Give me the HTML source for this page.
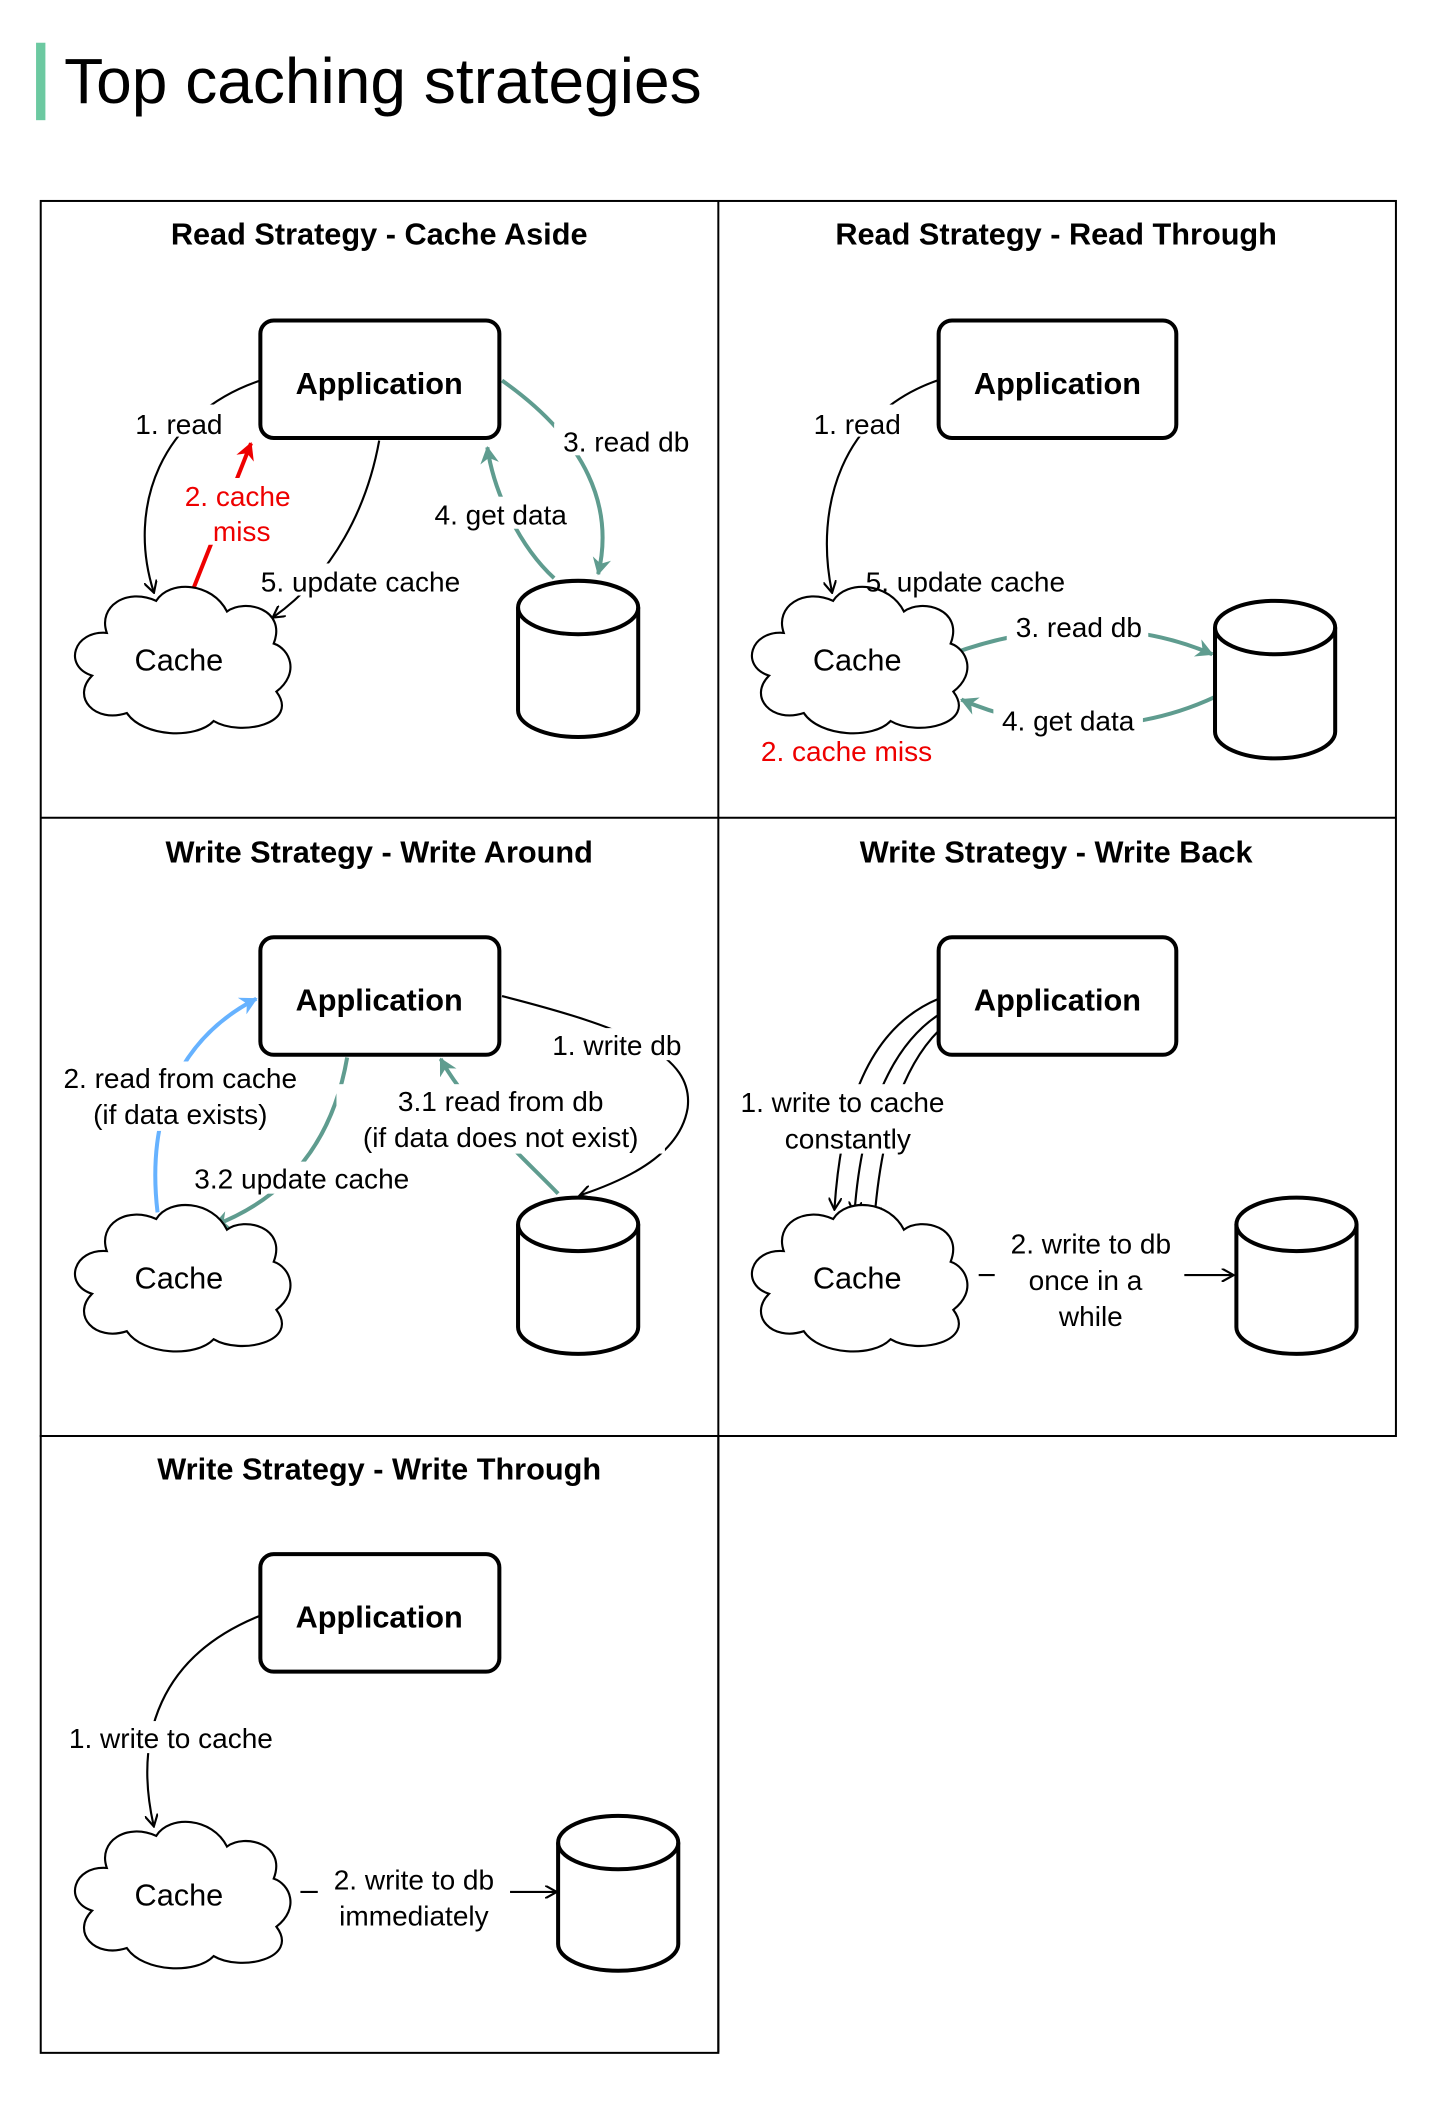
<!DOCTYPE html>
<html><head><meta charset="utf-8"><style>
html,body{margin:0;padding:0;background:#fff;}
svg{display:block;}
text{font-family:"Liberation Sans",sans-serif;}
.t{font-size:23px;font-weight:bold;text-anchor:middle;}
.l{font-size:21px;text-anchor:middle;fill:#000;}
.r{fill:#e00;}
.k{fill:none;stroke:#000;stroke-width:1.6;}
.g{fill:none;stroke:#5f9c8f;stroke-width:3;}
.b{fill:none;stroke:#66b2ff;stroke-width:3;}
.s{fill:none;stroke:#000;stroke-width:3;}
.bg{fill:#fff;stroke:none;}
</style></head><body>
<svg width="1442" height="2102" viewBox="0 0 1080 1574.3" xmlns="http://www.w3.org/2000/svg">
<defs>
<marker id="ak" markerWidth="10" markerHeight="10" refX="8" refY="5" orient="auto" markerUnits="userSpaceOnUse"><path d="M0,0 L9,5 L0,10" fill="none" stroke="#000" stroke-width="1.6"/></marker>
<marker id="ag" markerWidth="16" markerHeight="16" refX="12" refY="8" orient="auto" markerUnits="userSpaceOnUse"><path d="M0,1 L13,8 L0,15 L4,8 Z" fill="#5f9c8f"/></marker>
<marker id="ar" markerWidth="16" markerHeight="16" refX="12" refY="8" orient="auto" markerUnits="userSpaceOnUse"><path d="M0,1 L13,8 L0,15 L4,8 Z" fill="#e00"/></marker>
<marker id="ab" markerWidth="16" markerHeight="16" refX="12" refY="8" orient="auto" markerUnits="userSpaceOnUse"><path d="M0,1 L13,8 L0,15 L4,8 Z" fill="#66b2ff"/></marker>
<path id="cloud" d="M -55,-20 C -80,-22 -88,5 -66,12 C -82,28 -64,48 -40,40 C -28,58 12,60 25,46 C 45,58 90,48 72,24 C 90,10 82,-8 70,-12 C 80,-38 48,-46 35,-36 C 24,-58 -8,-60 -18,-44 C -40,-54 -62,-40 -55,-20 Z" fill="#fff" stroke="#000" stroke-width="1.6"/>
</defs>
<rect x="0" y="0" width="1080" height="1575" fill="#fff"/>
<rect x="27" y="32" width="7" height="58" fill="#6cc9a1"/>
<text x="48" y="77" style="font-size:48px">Top caching strategies</text>

<g fill="none" stroke="#000" stroke-width="1.5">
<rect x="30.5" y="150.5" width="1015" height="925"/>
<line x1="538" y1="150" x2="538" y2="1537"/>
<line x1="30" y1="612.5" x2="1045" y2="612.5"/>
<rect x="30.5" y="1075.5" width="507.5" height="462"/>
</g>

<!-- Panel 1 -->
<text class="t" x="284" y="183">Read Strategy - Cache Aside</text>
<path class="k" d="M195,285 C120,310 95,380 115,443" marker-end="url(#ak)"/>
<path class="k" d="M284,330 C275,380 250,430 205,462" marker-end="url(#ak)"/>
<path d="M142,448 L188,332" fill="none" stroke="#e00" stroke-width="3" marker-end="url(#ar)"/>
<path class="g" d="M376,285 C440,330 460,380 448,430" marker-end="url(#ag)"/>
<path class="g" d="M415,433 C390,410 370,370 365,335" marker-end="url(#ag)"/>
<rect class="s" x="195" y="240" width="179" height="88" rx="10" fill="#fff"/>
<text class="t" x="284" y="295">Application</text>
<use href="#cloud" x="135" y="494"/>
<text class="l" x="134" y="502" style="font-size:23px">Cache</text>
<path class="s" d="M388,455 V532 A45,20 0 0 0 478,532 V455" fill="#fff"/>
<ellipse class="s" cx="433" cy="455" rx="45" ry="20" fill="#fff"/>
<rect class="bg" x="98" y="303" width="74" height="24"/><text class="l" x="134" y="325">1. read</text>
<rect class="bg" x="135" y="358" width="88" height="50"/><text class="l r" x="178" y="379">2. cache</text><text class="l r" x="181" y="405">miss</text>
<rect class="bg" x="188" y="422" width="164" height="24"/><text class="l" x="270" y="443">5. update cache</text>
<rect class="bg" x="415" y="317" width="108" height="24"/><text class="l" x="469" y="338">3. read db</text>
<rect class="bg" x="318" y="372" width="116" height="24"/><text class="l" x="375" y="393">4. get data</text>

<!-- Panel 2 -->
<text class="t" x="791" y="183">Read Strategy - Read Through</text>
<path class="k" d="M702,285 C630,310 610,380 623,443" marker-end="url(#ak)"/>
<path class="g" d="M712,490 C780,465 850,465 908,490" marker-end="url(#ag)"/>
<path class="g" d="M910,522 C850,550 780,550 720,524" marker-end="url(#ag)"/>
<rect class="s" x="703" y="240" width="178" height="88" rx="10" fill="#fff"/>
<text class="t" x="792" y="295">Application</text>
<use href="#cloud" x="642" y="494"/>
<text class="l" x="642" y="502" style="font-size:23px">Cache</text>
<path class="s" d="M910,470 V548 A45,20 0 0 0 1000,548 V470" fill="#fff"/>
<ellipse class="s" cx="955" cy="470" rx="45" ry="20" fill="#fff"/>
<rect class="bg" x="606" y="303" width="74" height="24"/><text class="l" x="642" y="325">1. read</text>
<text class="l" x="723" y="443">5. update cache</text>
<rect class="bg" x="754" y="457" width="106" height="24"/><text class="l" x="808" y="477">3. read db</text>
<rect class="bg" x="744" y="527" width="112" height="24"/><text class="l" x="800" y="547">4. get data</text>
<text class="l r" x="634" y="570">2. cache miss</text>

<!-- Panel 3 -->
<text class="t" x="284" y="646">Write Strategy - Write Around</text>
<path class="b" d="M118,908 C110,840 130,780 192,748" marker-end="url(#ab)"/>
<path class="k" d="M376,746 C470,770 520,790 515,830 C510,860 480,880 435,895" marker-end="url(#ak)"/>
<path class="g" d="M418,894 C395,870 350,830 330,793" marker-end="url(#ag)"/>
<path class="g" d="M260,792 C250,850 220,895 160,918" marker-end="url(#ag)"/>
<rect class="s" x="195" y="702" width="179" height="88" rx="10" fill="#fff"/>
<text class="t" x="284" y="757">Application</text>
<use href="#cloud" x="135" y="957"/>
<text class="l" x="134" y="965" style="font-size:23px">Cache</text>
<path class="s" d="M388,917 V994 A45,20 0 0 0 478,994 V917" fill="#fff"/>
<ellipse class="s" cx="433" cy="917" rx="45" ry="20" fill="#fff"/>
<rect class="bg" x="36" y="795" width="200" height="52"/><text class="l" x="135" y="815">2. read from cache</text><text class="l" x="135" y="842">(if data exists)</text>
<rect class="bg" x="406" y="770" width="112" height="24"/><text class="l" x="462" y="790">1. write db</text>
<rect class="bg" x="252" y="812" width="246" height="52"/><text class="l" x="375" y="832">3.1 read from db</text><text class="l" x="375" y="859">(if data does not exist)</text>
<rect class="bg" x="138" y="870" width="176" height="24"/><text class="l" x="226" y="890">3.2 update cache</text>

<!-- Panel 4 -->
<text class="t" x="791" y="646">Write Strategy - Write Back</text>
<path class="k" d="M703,748 C650,770 630,830 625,905" marker-end="url(#ak)"/>
<path class="k" d="M703,760 C665,785 645,840 640,908" marker-end="url(#ak)"/>
<path class="k" d="M703,772 C675,800 660,850 655,912" marker-end="url(#ak)"/>
<path class="k" d="M733,955 L923,955" marker-end="url(#ak)"/>
<rect class="s" x="703" y="702" width="178" height="88" rx="10" fill="#fff"/>
<text class="t" x="792" y="757">Application</text>
<use href="#cloud" x="642" y="957"/>
<text class="l" x="642" y="965" style="font-size:23px">Cache</text>
<path class="s" d="M926,917 V994 A45,20 0 0 0 1016,994 V917" fill="#fff"/>
<ellipse class="s" cx="971" cy="917" rx="45" ry="20" fill="#fff"/>
<rect class="bg" x="545" y="812" width="176" height="52"/><text class="l" x="631" y="833">1. write to cache</text><text class="l" x="635" y="860">constantly</text>
<rect class="bg" x="745" y="916" width="142" height="82"/><text class="l" x="817" y="939">2. write to db</text><text class="l" x="813" y="966">once in a</text><text class="l" x="817" y="993">while</text>

<!-- Panel 5 -->
<text class="t" x="284" y="1108">Write Strategy - Write Through</text>
<path class="k" d="M195,1210 C120,1240 100,1300 115,1367" marker-end="url(#ak)"/>
<path class="k" d="M225,1417 L416,1417" marker-end="url(#ak)"/>
<rect class="s" x="195" y="1164" width="179" height="88" rx="10" fill="#fff"/>
<text class="t" x="284" y="1219">Application</text>
<use href="#cloud" x="135" y="1419"/>
<text class="l" x="134" y="1427" style="font-size:23px">Cache</text>
<path class="s" d="M418,1380 V1456 A45,20 0 0 0 508,1456 V1380" fill="#fff"/>
<ellipse class="s" cx="463" cy="1380" rx="45" ry="20" fill="#fff"/>
<rect class="bg" x="40" y="1289" width="176" height="24"/><text class="l" x="128" y="1309">1. write to cache</text>
<rect class="bg" x="238" y="1395" width="144" height="52"/><text class="l" x="310" y="1415">2. write to db</text><text class="l" x="310" y="1442">immediately</text>
</svg>
</body></html>
